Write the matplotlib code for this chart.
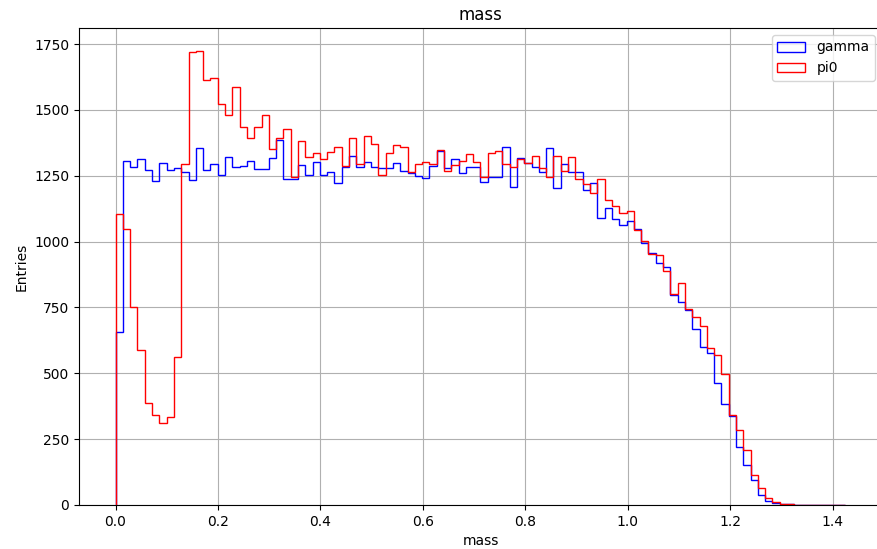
import numpy as np
import matplotlib
matplotlib.use("Agg")
import matplotlib.pyplot as plt

# histogram bin edges (shared by both series)
x_min, x_max, n_bins = 0.0, 1.425, 100

gamma_counts = [
    656, 1305, 1282, 1314, 1271, 1231, 1298, 1273, 1278, 1263,
    1233, 1355, 1273, 1296, 1254, 1322, 1283, 1286, 1305, 1276,
    1276, 1317, 1387, 1239, 1239, 1292, 1254, 1304, 1254, 1264,
    1222, 1283, 1327, 1283, 1302, 1283, 1279, 1279, 1299, 1268,
    1261, 1251, 1242, 1287, 1346, 1280, 1312, 1260, 1285, 1285,
    1228, 1247, 1247, 1359, 1209, 1317, 1298, 1285, 1264, 1357,
    1204, 1296, 1264, 1264, 1197, 1222, 1091, 1126, 1085, 1063,
    1079, 1049, 996, 956, 920, 905, 796, 770, 742, 670,
    600, 577, 462, 385, 337, 219, 150, 95, 38, 15,
    8, 3, 2, 1, 1, 1, 0, 1, 1, 1,
]

pi0_counts = [
    1105, 1048, 751, 589, 388, 343, 310, 334, 563, 1296,
    1722, 1725, 1612, 1623, 1522, 1482, 1587, 1437, 1393, 1437,
    1480, 1353, 1392, 1428, 1245, 1381, 1321, 1336, 1312, 1340,
    1359, 1287, 1395, 1296, 1401, 1369, 1254, 1338, 1368, 1359,
    1264, 1296, 1304, 1296, 1348, 1270, 1290, 1308, 1331, 1304,
    1247, 1338, 1346, 1296, 1283, 1312, 1298, 1327, 1280, 1245,
    1325, 1270, 1323, 1236, 1217, 1183, 1237, 1159, 1136, 1107,
    1117, 1043, 1003, 952, 948, 888, 800, 844, 746, 713,
    680, 595, 568, 498, 341, 286, 210, 114, 66, 25,
    10, 4, 2, 1, 1, 1, 0, 0, 0, 0,
]

labels = ["gamma", "pi0"]
colors = ["blue", "red"]

edges = np.linspace(x_min, x_max, n_bins + 1)
centers = 0.5 * (edges[:-1] + edges[1:])

fig = plt.figure(figsize=(8.77, 5.49), dpi=100)
ax = fig.add_axes([79 / 877, 44 / 549, 803 / 877, 477 / 549])

for counts, lab, col in zip([gamma_counts, pi0_counts], labels, colors):
    ax.hist(centers, bins=edges, weights=counts, histtype="step",
            color=col, label=lab, linewidth=1.0)

ax.set_title("mass")
ax.set_xlabel("mass")
ax.set_ylabel("Entries")
ax.grid(True)
ax.legend(loc="upper right")

fig.savefig("out.png", dpi=100)
